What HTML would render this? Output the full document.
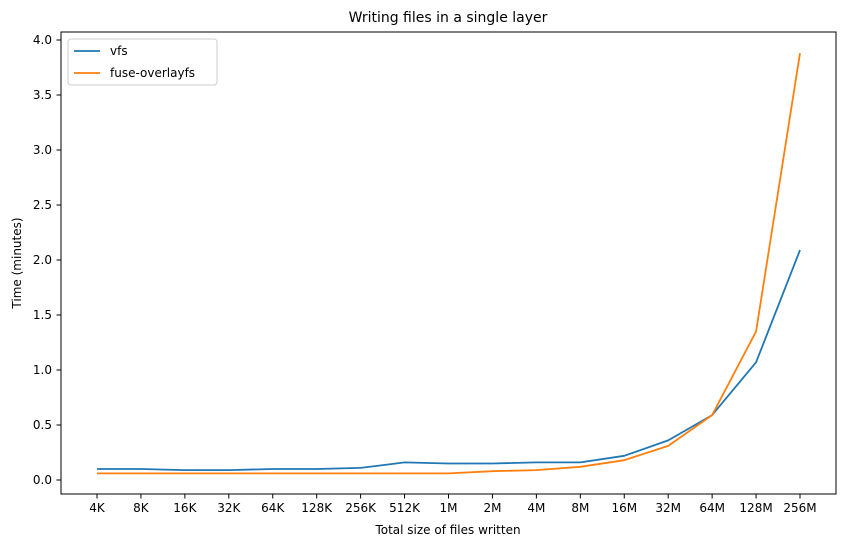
<!DOCTYPE html>
<html><head><meta charset="utf-8"><style>
body{margin:0;background:#fff;font-family:"Liberation Sans","DejaVu Sans",sans-serif}
svg text{font-family:"DejaVu Sans","Liberation Sans",sans-serif;fill:#000}
</style></head><body>
<svg id="chart" width="846" height="547" xmlns="http://www.w3.org/2000/svg">
<rect width="846" height="547" fill="#fff"/>
<text x="448" y="22" font-size="14" text-anchor="middle">Writing files in a single layer</text>
<g id="grid"></g>
<g id="series"></g>
<rect x="61" y="32" width="775" height="462" fill="none" stroke="#000" stroke-width="1"/>
<text x="448" y="534" font-size="12" text-anchor="middle">Total size of files written</text>
<text transform="translate(21,263) rotate(-90)" font-size="12" text-anchor="middle">Time (minutes)</text>
<g>
<rect x="68" y="39" width="149" height="46" rx="3" fill="#fff" stroke="#ccc"/>
<line x1="74" y1="51" x2="100" y2="51" stroke="#1f77b4" stroke-width="1.8"/>
<text x="110" y="55" font-size="12">vfs</text>
<line x1="74" y1="73" x2="100" y2="73" stroke="#ff7f0e" stroke-width="1.8"/>
<text x="110" y="77" font-size="12">fuse-overlayfs</text>
</g>
</svg>
<script>
const categories=["4K","8K","16K","32K","64K","128K","256K","512K","1M","2M","4M","8M","16M","32M","64M","128M","256M"];
const vfsValues=[0.10,0.10,0.09,0.09,0.10,0.10,0.11,0.16,0.15,0.15,0.16,0.16,0.22,0.36,0.59,1.07,2.09];
const fuseValues=[0.06,0.06,0.06,0.06,0.06,0.06,0.06,0.06,0.06,0.08,0.09,0.12,0.18,0.31,0.59,1.35,3.88];
const yTicks=[0,0.5,1,1.5,2,2.5,3,3.5,4];
const NS="http://www.w3.org/2000/svg";
function xPos(i){return 97+i*(800-97)/(categories.length-1);}
function yPos(v){return 480-v*110;}
const g=document.getElementById('grid');
function mk(t,a,p){const e=document.createElementNS(NS,t);for(const k in a)e.setAttribute(k,a[k]);p.appendChild(e);return e;}
categories.forEach((c,i)=>{
 const x=xPos(i);
 const l=mk('line',{x1:x,x2:x,y1:494,y2:498.5,stroke:'#000'},g);
 
 
 const t=mk('text',{x:x,y:512,'font-size':12,'text-anchor':'middle'},g);t.textContent=c;
 
 
});
yTicks.forEach(v=>{
 const y=yPos(v);
 const l=mk('line',{x1:56.5,x2:61,y1:y,y2:y,stroke:'#000'},g);
 
 
 const t=mk('text',{x:52,y:y+4,'font-size':12,'text-anchor':'end'},g);t.textContent=v.toFixed(1);
 
 
});
const s=document.getElementById('series');
[[vfsValues,'#1f77b4','vfs-line'],[fuseValues,'#ff7f0e','fuse-overlayfs-line']].forEach(([vals,col,name])=>{
 const p=mk('polyline',{points:vals.map((v,i)=>xPos(i)+','+yPos(v)).join(' '),fill:'none',stroke:col,'stroke-width':1.8,'stroke-linejoin':'round'},s);
 
 
});
</script>
</body></html>
